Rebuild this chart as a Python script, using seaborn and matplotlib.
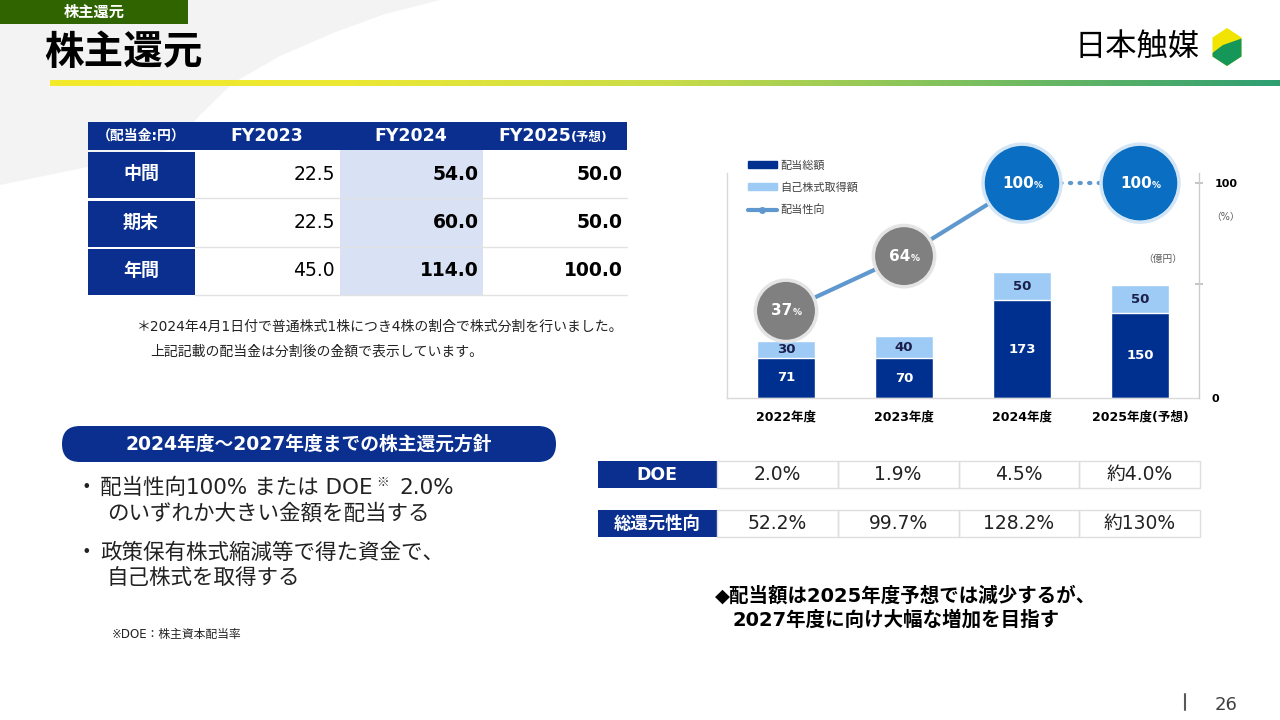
import numpy as np
import matplotlib
matplotlib.use("Agg")
import matplotlib.pyplot as plt
import seaborn as sns
from matplotlib.patches import Rectangle, FancyBboxPatch, Polygon, Patch
from matplotlib.lines import Line2D
from matplotlib.colors import LinearSegmentedColormap

sns.set_theme(style="white")
plt.rcParams["font.family"] = ["DejaVu Sans", "Noto Sans CJK JP"]
JP = ["Noto Sans CJK JP", "DejaVu Sans"]

# chart data
years = ["2022年度", "2023年度", "2024年度", "2025年度(予想)"]
dividend_total = [71, 70, 173, 150]
buyback = [30, 40, 50, 50]
payout_ratio = [37, 64, 100, 100]

# dividend table (円)
table_cols = ["FY2023", "FY2024", "FY2025"]
table_rows = ["中間", "期末", "年間"]
div_fy2023 = [22.5, 22.5, 45.0]
div_fy2024 = [54.0, 60.0, 114.0]
div_fy2025 = [50.0, 50.0, 100.0]

# DOE / total return table
doe_vals = ["2.0%", "1.9%", "4.5%", "約4.0%"]
total_return = ["52.2%", "99.7%", "128.2%", "約130%"]

NAVY = "#0a2f8f"
BAR_NAVY = "#00308f"
LIGHT = "#9dcbf6"
LINE = "#5f98cf"
TXT = "#222222"

fig = plt.figure(figsize=(12.8, 7.2), dpi=100)

# ---- background / slide decoration, pixel coordinates
bg = fig.add_axes([0, 0, 1, 1], zorder=0)
bg.set_facecolor("white")

swoosh = [(0, 0), (440, 0), (385, 14), (333, 33), (280, 56), (233, 83),
          (200, 115), (170, 150), (0, 185)]
bg.add_patch(Polygon(swoosh, closed=True, color="#f3f3f3", lw=0))

bg.add_patch(Rectangle((0, 0), 188, 24, color="#2f6400", lw=0))
bg.text(94, 12, "株主還元", color="white", fontsize=11, weight="bold",
        ha="center", va="center", family=JP)
bg.text(44, 52, "株主還元", color="black", fontsize=28.5, weight="bold",
        ha="left", va="center", family=JP)

grad = LinearSegmentedColormap.from_list(
    "g", ["#f2ea2a", "#ebe734", "#c9dc48", "#7cbf5f", "#2e9e72"])
bg.imshow(np.linspace(0, 1, 256)[None, :], extent=(50, 1280, 86, 80),
          aspect="auto", cmap=grad, zorder=3)

# logo
bg.text(1200, 47, "日本触媒", color="black", fontsize=22.5, ha="right",
        va="center", family=JP)
cx, cy = 1227, 47
hexagon = Polygon([(cx, cy - 19), (cx + 14.5, cy - 9.5), (cx + 14.5, cy + 9.5),
                   (cx, cy + 19), (cx - 14.5, cy + 9.5), (cx - 14.5, cy - 9.5)],
                  closed=True, color="#f1e400", lw=0)
bg.add_patch(hexagon)
green = Polygon([(cx - 16, cy + 7), (cx - 4, cy - 2), (cx + 16, cy - 9),
                 (cx + 16, cy + 22), (cx - 16, cy + 22)], closed=True,
                color="#16975a", lw=0)
bg.add_patch(green)
green.set_clip_path(hexagon)

# ---- dividend table
row_top = [150, 199, 247]
row_h = 48
bg.add_patch(Rectangle((88, 122), 539, 28, color=NAVY, lw=0))
bg.add_patch(Rectangle((340, 150), 143, 145, color="#d9e1f4", lw=0))
bg.text(141, 136, "（配当金:円）", color="white", fontsize=10, weight="bold",
        ha="center", va="center")
bg.text(267, 136, table_cols[0], color="white", fontsize=12.5, weight="bold",
        ha="center", va="center")
bg.text(411, 136, table_cols[1], color="white", fontsize=12.5, weight="bold",
        ha="center", va="center")
bg.text(571, 136, table_cols[2], color="white", fontsize=12.5, weight="bold",
        ha="right", va="center")
bg.text(571, 137, "(予想)", color="white", fontsize=9, weight="bold",
        ha="left", va="center")

x_right = [335, 479, 623]
for i, name in enumerate(table_rows):
    y0 = row_top[i]
    bg.add_patch(Rectangle((88, y0 + 1.5), 107, row_h - 2, color=NAVY, lw=0))
    bg.text(141, y0 + row_h / 2, name, color="white", fontsize=13, weight="bold",
            ha="center", va="center")
    bg.plot([195, 627], [y0 + row_h, y0 + row_h], color="#e2e2e2", lw=1)
    for j, vals in enumerate([div_fy2023, div_fy2024, div_fy2025]):
        bg.text(x_right[j], y0 + row_h / 2, f"{vals[i]:.1f}", color="black",
                fontsize=13.5, weight="normal" if j == 0 else "bold",
                ha="right", va="center")

bg.text(137, 327, "＊2024年4月1日付で普通株式1株につき4株の割合で株式分割を行いました。",
        color=TXT, fontsize=10, ha="left", va="center")
bg.text(150, 352, "上記記載の配当金は分割後の金額で表示しています。",
        color=TXT, fontsize=10, ha="left", va="center")

# ---- policy banner and bullets
bg.add_patch(FancyBboxPatch((62, 426), 494, 36,
                            boxstyle="round,pad=0,rounding_size=18",
                            color=NAVY, lw=0))
bg.text(309, 444, "2024年度～2027年度までの株主還元方針", color="white",
        fontsize=13.5, weight="bold", ha="center", va="center")

bg.text(76, 488, "・", color=TXT, fontsize=15.5, ha="left", va="center", family=JP)
bg.text(100, 488, "配当性向100% または DOE", color=TXT, fontsize=15.5,
        ha="left", va="center")
bg.text(376, 482, "※", color=TXT, fontsize=9, ha="left", va="center", family=JP)
bg.text(399, 488, "2.0%", color=TXT, fontsize=15.5, ha="left", va="center")
bg.text(107, 513, "のいずれか大きい金額を配当する", color=TXT, fontsize=15.5,
        ha="left", va="center")
bg.text(76, 553, "・", color=TXT, fontsize=15.5, ha="left", va="center", family=JP)
bg.text(100, 553, "政策保有株式縮減等で得た資金で、", color=TXT, fontsize=15.5,
        ha="left", va="center")
bg.text(107, 578, "自己株式を取得する", color=TXT, fontsize=15.5,
        ha="left", va="center")
bg.text(112, 634, "※DOE：株主資本配当率", color=TXT, fontsize=8.5,
        ha="left", va="center")

# ---- DOE / total return table
cell_w = (1200 - 717) / 4
for y0, label, vals in [(461, "DOE", doe_vals), (510, "総還元性向", total_return)]:
    bg.add_patch(Rectangle((598, y0), 119, 27, color=NAVY, lw=0))
    bg.text(657, y0 + 13.5, label, color="white", fontsize=12.5, weight="bold",
            ha="center", va="center")
    for k, v in enumerate(vals):
        bg.add_patch(Rectangle((717 + k * cell_w, y0), cell_w, 27, fill=False,
                               edgecolor="#dedede", lw=1))
        bg.text(717 + (k + 0.5) * cell_w, y0 + 13.5, v, color=TXT,
                fontsize=13.5, ha="center", va="center")

bg.text(715, 596, "◆配当額は2025年度予想では減少するが、", color="black",
        fontsize=14, weight="bold", ha="left", va="center")
bg.text(733, 620, "2027年度に向け大幅な増加を目指す", color="black",
        fontsize=14, weight="bold", ha="left", va="center")

bg.text(1163, 259, "（億円）", color="#595959", fontsize=7, ha="center", va="center")
bg.text(1226, 217, "（%）", color="#595959", fontsize=7, ha="center", va="center")

bg.plot([1185, 1185], [694, 710], color="#595959", lw=1.5)
bg.text(1226, 705, "26", color="#404040", fontsize=13, ha="center", va="center")

bg.set_xlim(0, 1280)
bg.set_ylim(720, 0)
bg.axis("off")

# ---- chart
ax = fig.add_axes([727 / 1280, 1 - 398 / 720, 472 / 1280, 225 / 720], zorder=2)
ax.patch.set_alpha(0)
pos = np.arange(len(years))
totals = [d + b for d, b in zip(dividend_total, buyback)]
sns.barplot(x=years, y=totals, color=LIGHT, width=0.49, saturation=1,
            errorbar=None, ax=ax)
sns.barplot(x=years, y=dividend_total, color=BAR_NAVY, width=0.49, saturation=1,
            errorbar=None, ax=ax)
ax.set_xlim(-0.5, 3.5)
ax.set_ylim(0, 398)
ax.set_xlabel("")
ax.set_ylabel("")
ax.tick_params(axis="x", length=0, pad=9, labelsize=9, labelcolor="black")
for lbl in ax.get_xticklabels():
    lbl.set_fontweight("bold")

for i, (d, b) in enumerate(zip(dividend_total, buyback)):
    ax.text(i, d / 2, str(d), color="white", fontsize=9.5, weight="bold",
            ha="center", va="center")
    ax.text(i, d + b / 2, str(b), color="#1b1f4a", fontsize=9.5, weight="bold",
            ha="center", va="center")

ax2 = ax.twinx()

# zero label sits on the right side, next to the payout axis
ax.yaxis.tick_right()
ax.set_yticks([0])
ax.set_yticklabels(["0"])
ax.tick_params(axis="y", length=0, pad=9, labelsize=8, labelcolor="black",
               labelleft=False, labelright=True)
for lbl in ax.get_yticklabels():
    lbl.set_fontweight("bold")
for s in ["top", "right"]:
    ax.spines[s].set_visible(False)
for s in ["left", "bottom"]:
    ax.spines[s].set_visible(True)
    ax.spines[s].set_color("#d9d9d9")
    ax.spines[s].set_linewidth(1)

sns.lineplot(x=pos[:3], y=payout_ratio[:3], ax=ax2, color=LINE, lw=3)
sns.lineplot(x=pos[2:], y=payout_ratio[2:], ax=ax2, color=LINE, lw=3,
             linestyle=(0, (0.3, 2.0)), dash_capstyle="round")
circle_col = ["#808080" if p < 100 else "#0a6fc2" for p in payout_ratio]
edge_col = ["#e4e4e4" if p < 100 else "#d4e6f6" for p in payout_ratio]
sizes = [1950 if p < 100 else 3150 for p in payout_ratio]
ax2.scatter(pos, payout_ratio, s=sizes, c=circle_col, edgecolors=edge_col,
            linewidths=2.5, zorder=5, clip_on=False)
for i, p in enumerate(payout_ratio):
    n = len(str(p))
    off = n * 0.348 * 11 - 2.9
    ax2.annotate(str(p), (i, p), xytext=(off, 0), textcoords="offset points",
                 ha="right", va="center", color="white", fontsize=11,
                 weight="bold", zorder=6, annotation_clip=False)
    ax2.annotate("%", (i, p), xytext=(off, -1.5), textcoords="offset points",
                 ha="left", va="center", color="white", fontsize=6.5,
                 weight="bold", zorder=6, annotation_clip=False)

ax2.set_ylim(-6, 105)
ax2.set_ylabel("")
ax2.set_yticks([50, 100])
ax2.set_yticklabels(["", "100"])
ax2.tick_params(axis="y", direction="inout", length=6, color="#bfbfbf",
                labelsize=8, pad=8, labelcolor="black")
for lbl in ax2.get_yticklabels():
    lbl.set_fontweight("bold")
for s in ["top", "left", "bottom"]:
    ax2.spines[s].set_visible(False)
ax2.spines["right"].set_color("#cccccc")
ax2.spines["right"].set_linewidth(1)

handles = [Patch(color=BAR_NAVY), Patch(color=LIGHT),
           Line2D([0], [0], color=LINE, lw=3, marker="o", ms=4)]
leg = ax2.legend(handles, ["配当総額", "自己株式取得額", "配当性向"],
                 loc="upper left", bbox_to_anchor=(748 / 1280, 1 - 160 / 720),
                 bbox_transform=fig.transFigure, frameon=False, fontsize=8,
                 handlelength=2.6, handleheight=0.6, labelspacing=1.05,
                 handletextpad=0.3, borderpad=0, borderaxespad=0)
for txt in leg.get_texts():
    txt.set_color("#404040")

fig.savefig("out.png", dpi=100)
